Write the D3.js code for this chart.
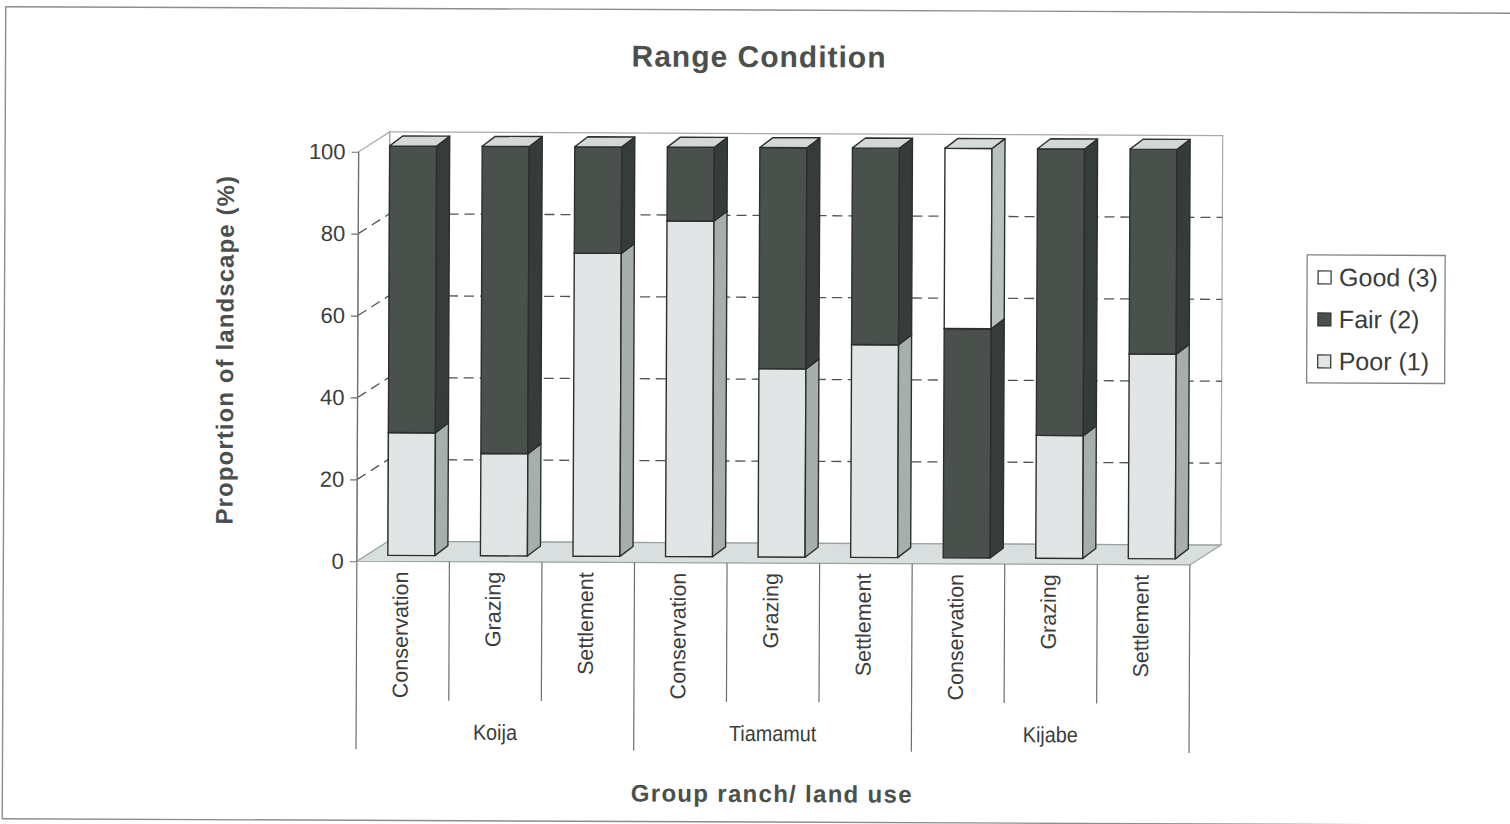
<!DOCTYPE html>
<html>
<head>
<meta charset="utf-8">
<script src="https://cdn.jsdelivr.net/npm/d3@7/dist/d3.min.js"></script>
<style>
  html, body { margin: 0; padding: 0; background: #ffffff; }
  svg { display: block; }
</style>
</head>
<body>
<svg id="chart" width="1510" height="824"></svg>
<script>
// ---------------- data ----------------
const groups = ["Koija", "Tiamamut", "Kijabe"];
const categoryGroup = ["Koija","Koija","Koija","Tiamamut","Tiamamut","Tiamamut","Kijabe","Kijabe","Kijabe"];
const categoryLabel = ["Conservation","Grazing","Settlement","Conservation","Grazing","Settlement","Conservation","Grazing","Settlement"];
const poor = [30, 25, 74, 82, 46, 52, 0, 30, 50];
const fair = [70, 75, 26, 18, 54, 48, 56, 70, 50];
const good = [0, 0, 0, 0, 0, 0, 44, 0, 0];
const seriesKeys = ["poor", "fair", "good"];
const legendLabels = ["Good (3)", "Fair (2)", "Poor (1)"];
const legendKeys = ["good", "fair", "poor"];
const yTicks = [0, 20, 40, 60, 80, 100];

const title = "Range Condition";
const yTitle = "Proportion of landscape (%)";
const xTitle = "Group ranch/ land use";

// ---------------- styles ----------------
const colors = {
  poor: { front: "#e1e5e5", side: "#a7afae", top: "#d4d9d9" },
  fair: { front: "#4a514d", side: "#363c39", top: "#d2d7d7" },
  good: { front: "#ffffff", side: "#b9c0c0", top: "#d6dbdb" }
};
const edge = "#2b2f2d";
const textDark = "#4b504c";

const svg = d3.select("#chart");
const root = svg.append("g").attr("transform", "rotate(0.25 755 412)");

// outer frame
root.append("rect")
  .attr("x", 4).attr("y", 10).attr("width", 1540).attr("height", 812)
  .attr("fill", "none").attr("stroke", "#8a8f8d").attr("stroke-width", 1.4);

// ---------------- scales ----------------
const rows = categoryLabel.map((c, i) => ({ i, poor: poor[i], fair: fair[i], good: good[i] }));
const x = d3.scaleBand().domain(d3.range(categoryLabel.length)).range([357.5, 1190.5]).padding(0);
const y = d3.scaleLinear().domain([0, 100]).range([563, 153.5]);

const D = { dx: 31, dy: -20 };       // box depth
const Z = { dx: 9.3, dy: -6 };       // bar front-face offset into depth
const B = { dx: 13, dy: -10 };       // bar depth
const barOffset = 21.7, barW = 47;

const xL = x.range()[0], xR = x.range()[1];
const y0 = y(0), yTop = y(100);

// back wall
root.append("rect")
  .attr("x", xL + D.dx).attr("y", yTop + D.dy)
  .attr("width", xR - xL).attr("height", y0 - yTop)
  .attr("fill", "#ffffff").attr("stroke", "#a3abab").attr("stroke-width", 1.2);

// left side wall outline
root.append("path")
  .attr("d", `M${xL},${y0} L${xL},${yTop} L${xL + D.dx},${yTop + D.dy} L${xL + D.dx},${y0 + D.dy}`)
  .attr("fill", "none").attr("stroke", "#a3abab").attr("stroke-width", 1.2);

// floor
root.append("path")
  .attr("d", `M${xL},${y0} L${xR},${y0} L${xR + D.dx},${y0 + D.dy} L${xL + D.dx},${y0 + D.dy} Z`)
  .attr("fill", "#d9dede").attr("stroke", "#9aa2a2").attr("stroke-width", 1.2);

// gridlines (side wall + back wall)
const grid = root.append("g").attr("stroke", "#505553").attr("stroke-width", 1.3)
  .attr("stroke-dasharray", "10,6").attr("fill", "none");
yTicks.filter(t => t > 0 && t < 100).forEach(t => {
  grid.append("path")
    .attr("d", `M${xL},${y(t)} L${xL + D.dx},${y(t) + D.dy} L${xR + D.dx},${y(t) + D.dy}`);
});

// y axis
root.append("line")
  .attr("x1", xL).attr("x2", xL).attr("y1", yTop).attr("y2", y0)
  .attr("stroke", "#6b7170").attr("stroke-width", 1.3);
const yAxis = d3.axisLeft(y).tickValues(yTicks).tickSize(7).tickPadding(6).tickFormat(d3.format("d"));
const yg = root.append("g").attr("transform", `translate(${xL},0)`).call(yAxis);
yg.select(".domain").remove();
yg.selectAll(".tick line").attr("stroke", "#6b7170").attr("stroke-width", 1.2);
yg.selectAll(".tick text")
  .attr("font-family", "Liberation Sans, Arial, sans-serif")
  .attr("font-size", 22).attr("fill", "#3a3d3b");

// ---------------- bars ----------------
const stack = d3.stack().keys(seriesKeys)(rows);
const barsG = root.append("g");
rows.forEach((r, i) => {
  const g = barsG.append("g");
  stack.forEach(layer => {
    const key = layer.key;
    const [v0, v1] = layer[i];
    if (v1 - v0 <= 0) return;
    const c = colors[key];
    const fx0 = x(i) + barOffset + Z.dx, fx1 = fx0 + barW;
    const fyT = y(v1) + Z.dy, fyB = y(v0) + Z.dy;
    g.append("rect")
      .attr("x", fx0).attr("y", fyT).attr("width", barW).attr("height", fyB - fyT)
      .attr("fill", c.front).attr("stroke", edge).attr("stroke-width", 1.4);
    g.append("path")
      .attr("d", `M${fx1},${fyB} L${fx1 + B.dx},${fyB + B.dy} L${fx1 + B.dx},${fyT + B.dy} L${fx1},${fyT} Z`)
      .attr("fill", c.side).attr("stroke", edge).attr("stroke-width", 1.4).attr("stroke-linejoin", "round");
    g.append("path")
      .attr("d", `M${fx0},${fyT} L${fx0 + B.dx},${fyT + B.dy} L${fx1 + B.dx},${fyT + B.dy} L${fx1},${fyT} Z`)
      .attr("fill", c.top).attr("stroke", edge).attr("stroke-width", 1.4).attr("stroke-linejoin", "round");
  });
});

// ---------------- category axis ----------------
const catG = root.append("g");
const innerBottom = 702, outerBottom = 751;
d3.range(categoryLabel.length + 1).forEach(k => {
  const xx = k < categoryLabel.length ? x(k) : xR;
  const isGroupEdge = (k % 3 === 0);
  catG.append("line")
    .attr("x1", xx).attr("x2", xx).attr("y1", y0).attr("y2", isGroupEdge ? outerBottom : innerBottom)
    .attr("stroke", "#6b7170").attr("stroke-width", 1.2);
});
categoryLabel.forEach((lab, i) => {
  const cx = x(i) + x.bandwidth() / 2 + 5;
  catG.append("text")
    .attr("transform", `translate(${cx},${573}) rotate(-90)`)
    .attr("text-anchor", "end")
    .attr("font-family", "Liberation Sans, Arial, sans-serif")
    .attr("font-size", 21.5).attr("fill", "#3a3d3b")
    .text(lab);
});
groups.forEach((gname, gi) => {
  const idx = categoryGroup.map((g, i) => g === gname ? i : -1).filter(i => i >= 0);
  const gx0 = x(idx[0]), gx1 = x(idx[idx.length - 1]) + x.bandwidth();
  catG.append("text")
    .attr("transform", `translate(${(gx0 + gx1) / 2},741) scale(0.9,1)`)
    .attr("text-anchor", "middle")
    .attr("font-family", "Liberation Sans, Arial, sans-serif")
    .attr("font-size", 22).attr("fill", "#3a3d3b")
    .text(gname);
});

// ---------------- titles ----------------
root.append("text")
  .attr("x", 757.5).attr("y", 67).attr("text-anchor", "middle")
  .attr("font-family", "Liberation Sans, Arial, sans-serif").attr("font-weight", "bold")
  .attr("font-size", 30).attr("letter-spacing", 1).attr("fill", textDark)
  .text(title);
root.append("text")
  .attr("transform", "translate(233,352) rotate(-90)")
  .attr("text-anchor", "middle")
  .attr("font-family", "Liberation Sans, Arial, sans-serif").attr("font-weight", "bold")
  .attr("font-size", 24).attr("letter-spacing", 1.1).attr("fill", textDark)
  .text(yTitle);
root.append("text")
  .attr("x", 773.5).attr("y", 802).attr("text-anchor", "middle")
  .attr("font-family", "Liberation Sans, Arial, sans-serif").attr("font-weight", "bold")
  .attr("font-size", 24).attr("letter-spacing", 1.3).attr("fill", textDark)
  .text(xTitle);

// ---------------- legend ----------------
const lg = root.append("g").attr("transform", "translate(1306.5,252.5)");
lg.append("rect").attr("width", 138).attr("height", 128)
  .attr("fill", "#ffffff").attr("stroke", "#7f8584").attr("stroke-width", 1.3);
legendKeys.forEach((k, j) => {
  const cy = 22 + j * 42;
  lg.append("rect").attr("x", 11).attr("y", cy - 6).attr("width", 13).attr("height", 13)
    .attr("fill", colors[k].front).attr("stroke", edge).attr("stroke-width", 1.2);
  lg.append("text").attr("x", 32).attr("y", cy + 9)
    .attr("font-family", "Liberation Sans, Arial, sans-serif")
    .attr("font-size", 25).attr("fill", "#3a3d3b")
    .text(legendLabels[j]);
});
</script>
</body>
</html>
